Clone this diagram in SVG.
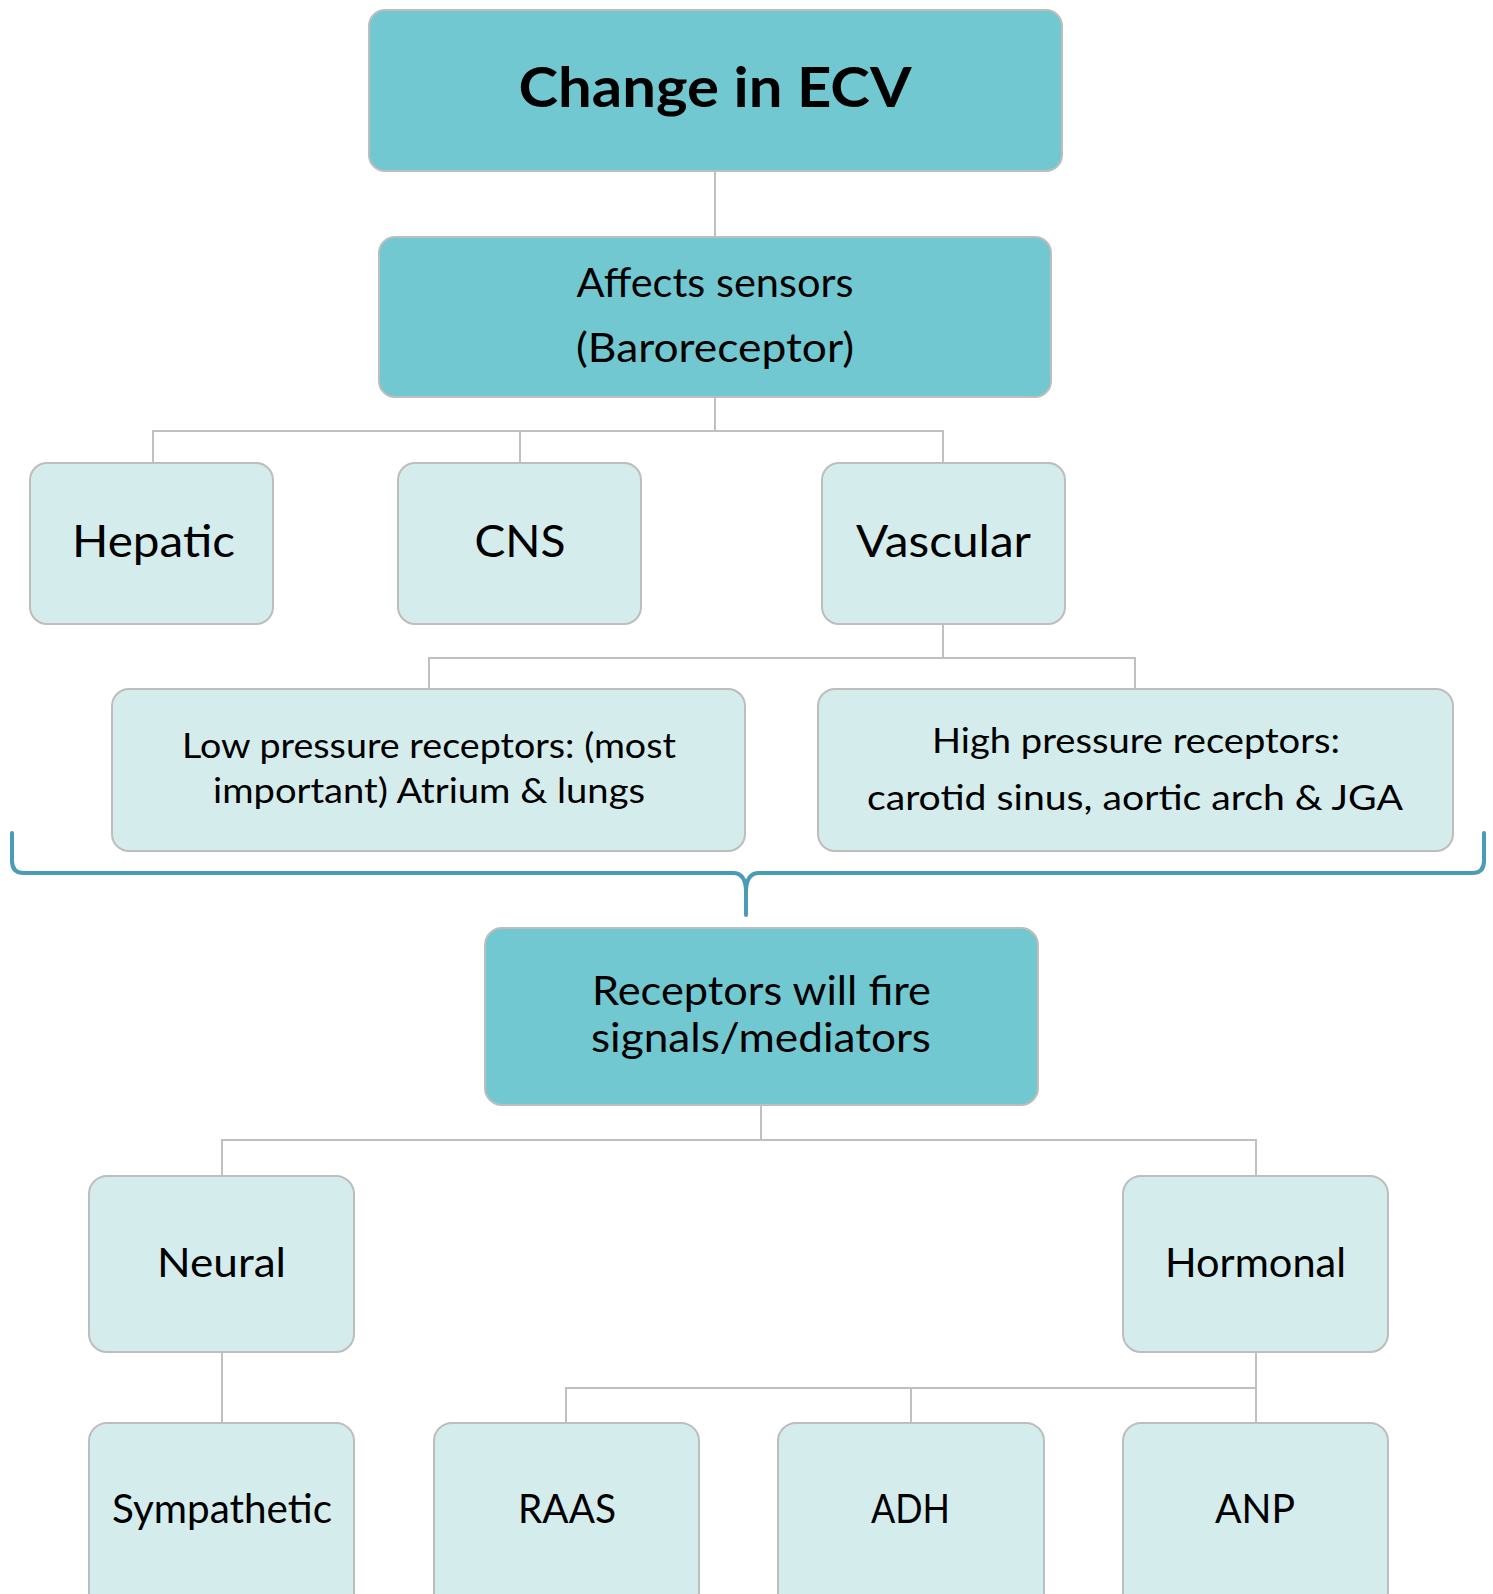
<svg xmlns="http://www.w3.org/2000/svg" width="1493" height="1594" viewBox="0 0 1493 1594">
<style>
.dark{fill:#71c8d0;stroke:#bdbdbd;stroke-width:2}
.light{fill:#d5ecec;stroke:#bdbdbd;stroke-width:2}
.t{font-family:Lato,"Liberation Sans",sans-serif;fill:#000;text-anchor:middle}
.conn{fill:none;stroke:#c0c0c0;stroke-width:2}
.brace{fill:none;stroke:#4a9bb6;stroke-width:4;stroke-linecap:round;stroke-linejoin:round}
</style>
<rect width="1493" height="1594" fill="#fff"/>
<g id="connectors" class="conn">
<path d="M715,171V237"/>
<path d="M715,397V431M153,463V431H943V463M520,431V463"/>
<path d="M943,624V658M429,689V658H1135V689"/>
<path d="M761,1105V1140M222,1176V1140H1256V1176"/>
<path d="M222,1352V1423"/>
<path d="M1256,1352V1423M566,1423V1388H1256M911,1388V1423"/>
</g>
<g id="brace">
<path class="brace" d="M12,833V861Q12,873 24,873H733Q746,873 746,892V915M746,892Q746,873 759,873H1472Q1484,873 1484,861V833"/>
</g>
<g id="n-ecv"><rect class="dark" x="369" y="10" width="693" height="161" rx="16"/>
<text class="t" x="715" y="107" font-size="56" font-weight="bold" textLength="393" lengthAdjust="spacingAndGlyphs">Change in ECV</text></g>
<g id="n-sensors"><rect class="dark" x="379" y="237" width="672" height="160" rx="16"/>
<text class="t" x="715" y="297" font-size="40" textLength="277" lengthAdjust="spacingAndGlyphs">Affects sensors</text>
<text class="t" x="715" y="362" font-size="40" textLength="278" lengthAdjust="spacingAndGlyphs">(Baroreceptor)</text></g>
<g id="n-hepatic"><rect class="light" x="30" y="463" width="243" height="161" rx="17"/>
<text class="t" x="153.5" y="557" font-size="44" textLength="163" lengthAdjust="spacingAndGlyphs">Hepatic</text></g>
<g id="n-cns"><rect class="light" x="398" y="463" width="243" height="161" rx="17"/>
<text class="t" x="520" y="557" font-size="44" textLength="91" lengthAdjust="spacingAndGlyphs">CNS</text></g>
<g id="n-vascular"><rect class="light" x="822" y="463" width="243" height="161" rx="17"/>
<text class="t" x="943.5" y="557" font-size="44" textLength="175" lengthAdjust="spacingAndGlyphs">Vascular</text></g>
<g id="n-low"><rect class="light" x="112" y="689" width="633" height="162" rx="17"/>
<text class="t" x="429" y="758" font-size="34" textLength="494" lengthAdjust="spacingAndGlyphs">Low pressure receptors: (most</text>
<text class="t" x="429" y="803" font-size="34" textLength="432" lengthAdjust="spacingAndGlyphs">important) Atrium &amp; lungs</text></g>
<g id="n-high"><rect class="light" x="818" y="689" width="635" height="162" rx="17"/>
<text class="t" x="1136" y="753" font-size="34" textLength="408" lengthAdjust="spacingAndGlyphs">High pressure receptors:</text>
<text class="t" x="1135" y="810" font-size="34" textLength="536" lengthAdjust="spacingAndGlyphs">carotid sinus, aortic arch &amp; JGA</text></g>
<g id="n-receptors"><rect class="dark" x="485" y="928" width="553" height="177" rx="17"/>
<text class="t" x="761.5" y="1005" font-size="40" textLength="339" lengthAdjust="spacingAndGlyphs">Receptors will fire</text>
<text class="t" x="761" y="1052" font-size="40" textLength="340" lengthAdjust="spacingAndGlyphs">signals/mediators</text></g>
<g id="n-neural"><rect class="light" x="89" y="1176" width="265" height="176" rx="18"/>
<text class="t" x="221.5" y="1277" font-size="40" textLength="129" lengthAdjust="spacingAndGlyphs">Neural</text></g>
<g id="n-hormonal"><rect class="light" x="1123" y="1176" width="265" height="176" rx="18"/>
<text class="t" x="1255.5" y="1277" font-size="40" textLength="181" lengthAdjust="spacingAndGlyphs">Hormonal</text></g>
<g id="n-sympathetic"><rect class="light" x="89" y="1423" width="265" height="190" rx="18"/>
<text class="t" x="222" y="1523" font-size="40" textLength="220" lengthAdjust="spacingAndGlyphs">Sympathetic</text></g>
<g id="n-raas"><rect class="light" x="434" y="1423" width="265" height="190" rx="18"/>
<text class="t" x="567" y="1523" font-size="40" textLength="98" lengthAdjust="spacingAndGlyphs">RAAS</text></g>
<g id="n-adh"><rect class="light" x="778" y="1423" width="266" height="190" rx="18"/>
<text class="t" x="910.5" y="1523" font-size="40" textLength="79" lengthAdjust="spacingAndGlyphs">ADH</text></g>
<g id="n-anp"><rect class="light" x="1123" y="1423" width="265" height="190" rx="18"/>
<text class="t" x="1255" y="1523" font-size="40" textLength="80" lengthAdjust="spacingAndGlyphs">ANP</text></g>
</svg>
